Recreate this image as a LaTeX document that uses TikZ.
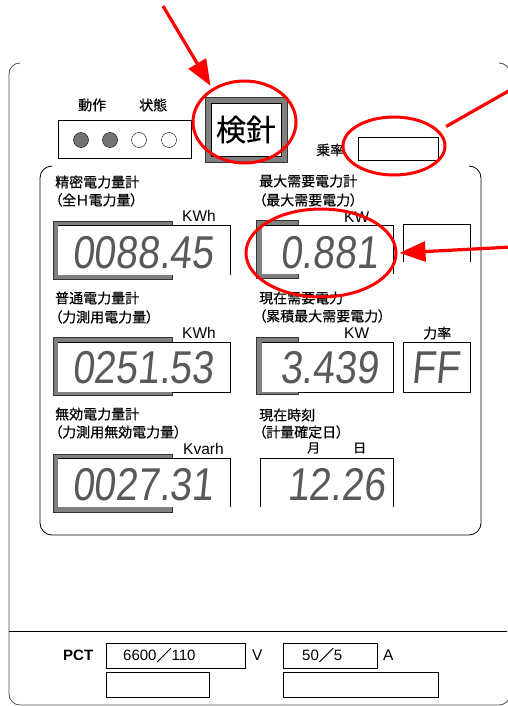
\documentclass[tikz,border=0pt]{standalone}
\usepackage{fontspec}
\setmainfont{Liberation Sans}
\newfontfamily\jp[RawFeature=+palt, FakeBold=0.4]{Noto Sans CJK JP}
\newfontfamily\jpfull[FakeBold=0.4]{Noto Sans CJK JP}
\usepackage{tikz}
\usetikzlibrary{shapes.geometric,arrows.meta}
\tikzstyle{panel} = [draw=black!70, line width=0.8pt, rounded corners=11pt]
\tikzstyle{hatch} = [fill=black!50, draw=black!80, line width=0.6pt]
\tikzstyle{dispbox} = [draw=black, line width=0.7pt]
\tikzstyle{jplabel} = [anchor=west, inner sep=0pt, font=\jp\fontsize{14}{16}\selectfont]
\tikzstyle{unit} = [anchor=west, inner sep=0pt, font=\fontsize{15.5}{17}\selectfont]
\tikzstyle{seg} = [anchor=base west, inner sep=0pt, xscale=0.85, xslant=0.12,
    text=black!65, font=\fontsize{46}{50}\selectfont]
\tikzstyle{lamp} = [circle, draw, minimum size=15pt, inner sep=0pt]
\tikzstyle{plainbox} = [draw, anchor=west, inner sep=0pt, minimum height=25pt]
\tikzstyle{ring} = [ellipse, draw=red, line width=3pt, inner sep=0pt]
\tikzstyle{redarrow} = [draw=red, line width=3.2pt, -{Triangle[length=26pt,width=20pt]}]
\tikzstyle{redline} = [draw=red, line width=3.2pt]
\begin{document}
\begin{tikzpicture}[x=1pt,y=-1pt]
    \useasboundingbox (0,0) rectangle (507,706);
    % panels
    \draw[panel] (20,63) -- (9,63) -- (9,705) -- (510,705) -- (510,63) -- (499,63);
    \draw (9,631) -- (507,631);
    \draw[panel, draw=black, rounded corners=12pt] (52,166) -- (40,166) -- (40,535) -- (481,535) -- (481,166) -- (469,166);

    % lamps
    \node[jplabel] (dosa) at (78,105) {動作};
    \node[jplabel] (jotai) at (139,105) {状態};
    \draw[dispbox] (58,120) rectangle (191,158);
    \foreach \x/\f [count=\i] in {81/black!55, 110/black!55, 139/white, 169/white}
        \node[lamp, fill=\f] (lamp\i) at (\x,140) {};

    % reading button and multiplier
    \path[hatch] (205,97) rectangle (287,162);
    \node[draw, fill=white, minimum width=70pt, minimum height=53pt, inner sep=0pt,
        font=\jpfull\fontsize{30}{32}\selectfont] (kenshin) at (246,129.5) {検針};
    \node[jplabel] (jouritsu) at (316,150) {乗率};
    \node[plainbox, minimum width=80pt, minimum height=23pt] (rateBox) at (358,148.5) {};

    % meter 1
    \node[jplabel] (l1a) at (55,182) {精密電力量計};
    \node[jplabel] (l1b) at (55,200) {（全Ｈ電力量）};
    \node[unit] (u1) at (182,216) {KWh};
    \path[hatch] (53,221) rectangle (172,279);
    \fill[white] (58,225) rectangle (230,275);
    \draw[dispbox] (58,225) -- (230,225) -- (230,275);
    \node[seg] (d1) at (72,268) {0088.45};

    % meter 2
    \node[jplabel] (r1a) at (259,181) {最大需要電力計};
    \node[jplabel] (r1b) at (259,200) {（最大需要電力）};
    \node[unit] (u2) at (344,217) {KW};
    \path[hatch] (256,220) rectangle (298,278);
    \fill[white] (262,225) rectangle (393,274);
    \draw[dispbox] (262,225) -- (393,225) -- (393,274);
    \draw[dispbox] (403,262) -- (403,224) -- (470,224) -- (470,262);
    \node[seg] (d2) at (280,268) {0.881};

    % meter 3
    \node[jplabel] (l2a) at (55,298) {普通電力量計};
    \node[jplabel] (l2b) at (55,317) {（力測用電力量）};
    \node[unit] (u3) at (182,333) {KWh};
    \path[hatch] (53,337) rectangle (172,395);
    \fill[white] (58,342) rectangle (230,392);
    \draw[dispbox] (172,392) -- (230,392) -- (230,342) -- (58,342);
    \node[seg] (d3) at (72,383) {0251.53};

    % meter 4
    \node[jplabel] (r2a) at (259,298) {現在需要電力};
    \node[jplabel] (r2b) at (259,316) {（累積最大需要電力）};
    \node[unit] (u4) at (344,333) {KW};
    \node[jplabel] (rikiritsu) at (423,333) {力率};
    \path[hatch] (256,337) rectangle (298,394);
    \fill[white] (262,342) rectangle (393,392);
    \draw[dispbox] (298,392) -- (393,392) -- (393,342) -- (262,342);
    \draw[dispbox] (403,342) rectangle (470,392);
    \node[seg] (d4) at (280,383) {3.439};
    \node[seg] (d5) at (411,383) {FF};

    % meter 5
    \node[jplabel] (l3a) at (55,414) {無効電力量計};
    \node[jplabel] (l3b) at (55,432) {（力測用無効電力量）};
    \node[unit] (u5) at (183,449) {Kvarh};
    \path[hatch] (53,454) rectangle (172,512);
    \fill[white] (58,458) rectangle (230,507);
    \draw[dispbox] (58,458) -- (230,458) -- (230,507);
    \node[seg] (d6) at (72,500) {0027.31};

    % meter 6
    \node[jplabel] (r3a) at (259,415) {現在時刻};
    \node[jplabel] (r3b) at (259,432) {（計量確定日）};
    \node[jplabel, font=\jp\fontsize{13}{15}\selectfont] (tsuki) at (307,448) {月};
    \node[jplabel, font=\jp\fontsize{13}{15}\selectfont] (hi) at (353,448) {日};
    \draw[dispbox] (260,507) -- (260,458) -- (393,458) -- (393,507);
    \node[seg] (d7) at (287,500) {12.26};

    % PCT
    \node[anchor=west, inner sep=0pt, font=\bfseries\fontsize{15}{17}\selectfont] (pct) at (63,655) {PCT};
    \node[plainbox, minimum width=139pt] (pctV) at (106,655.5) {};
    \node[anchor=west, inner sep=0pt, font=\fontsize{15}{17}\selectfont] (pctVtxt) at (123,655) {6600{\jpfull ／}110};
    \node[unit] (uV) at (252,655) {V};
    \node[plainbox, minimum width=94pt] (pctA) at (283,655.5) {};
    \node[anchor=west, inner sep=0pt, font=\fontsize{15}{17}\selectfont] (pctAtxt) at (302,655) {50{\jpfull ／}5};
    \node[unit] (uA) at (383,655) {A};
    \node[plainbox, minimum width=103pt] (blankV) at (106,684.5) {};
    \node[plainbox, minimum width=155pt] (blankA) at (283,684.5) {};

    % red marks
    \node[ring, minimum width=103pt, minimum height=82pt] (ringKen) at (244.5,122) {};
    \node[ring, minimum width=102pt, minimum height=58pt] (ringRate) at (394,146) {};
    \node[ring, minimum width=150pt, minimum height=88pt] (ringMax) at (321,253) {};
    \coordinate (kenStart) at (163,6);
    \coordinate (rateEnd) at (512,89);
    \coordinate (maxStart) at (512,247);
    % Draw edges
    \path[redarrow, shorten >=3pt] (kenStart) -- (ringKen.134);
    \path[redline, shorten <=8pt] (ringRate.19) -- (rateEnd);
    \path[redarrow, shorten >=2pt] (maxStart) -- (ringMax.east);
\end{tikzpicture}
\end{document}
